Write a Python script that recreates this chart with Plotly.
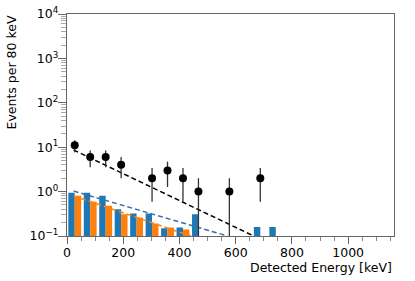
import numpy as np
import plotly.graph_objects as go

# Data (energy bin centers in keV)
bin_centers = [27.5, 82.5, 137.5, 192.5, 247.5, 302.5, 357.5, 412.5,
               467.5, 522.5, 577.5, 632.5, 687.5, 742.5]
blue_vals = [0.94, 0.94, 0.81, 0.40, 0.32, 0.32, 0.15, 0.155,
             0.31, None, None, None, 0.16, 0.16]
orange_vals = [0.81, 0.59, 0.48, 0.31, 0.26, 0.19, 0.155, 0.14,
               None, None, None, None, None, None]

data_x = [27.5, 82.5, 137.5, 192.5, 302.5, 357.5, 412.5, 467.5, 577.5, 687.5]
data_y = [11, 6, 6, 4, 2, 3, 2, 1, 1, 2]
err_up = [3.32, 2.45, 2.45, 2.0, 1.41, 1.73, 1.41, 1.0, 1.0, 1.41]
err_dn = [3.32, 2.45, 2.45, 2.0, 1.41, 1.73, 1.41, 0.999, 0.999, 1.41]

fit_black_x = [23.5, 664]
fit_black_y = [8.65, 0.1]
fit_blue_x = [23.5, 571]
fit_blue_y = [1.03, 0.1]
fit_orange_x = [23.5, 440]
fit_orange_y = [0.80, 0.1]

y_tickvals = [0.1, 1, 10, 100, 1000, 10000]
y_ticktext = ["10<sup>\u22121</sup>", "10<sup>0</sup>", "10<sup>1</sup>",
              "10<sup>2</sup>", "10<sup>3</sup>", "10<sup>4</sup>"]
y_minor = [m * 10.0 ** e for e in range(-1, 4) for m in range(2, 10)]

BLUE = "#1f77b4"
ORANGE = "#ff7f0e"
FONT = "DejaVu Sans"

fig = go.Figure()
fig.add_trace(go.Bar(x=bin_centers, y=blue_vals, marker=dict(color=BLUE, line=dict(width=0)),
                     showlegend=False))
fig.add_trace(go.Bar(x=bin_centers, y=orange_vals, marker=dict(color=ORANGE, line=dict(width=0)),
                     showlegend=False))
fig.add_trace(go.Scatter(x=fit_blue_x, y=fit_blue_y, mode="lines",
                         line=dict(color="#3a6fa6", width=1.5, dash="5px,3px"), showlegend=False))
fig.add_trace(go.Scatter(x=fit_orange_x, y=fit_orange_y, mode="lines",
                         line=dict(color=ORANGE, width=1.5, dash="5px,3px"), showlegend=False))
fig.add_trace(go.Scatter(x=fit_black_x, y=fit_black_y, mode="lines",
                         line=dict(color="black", width=1.5, dash="5px,3px"), showlegend=False))
fig.add_trace(go.Scatter(x=data_x, y=data_y, mode="markers",
                         marker=dict(color="black", size=8),
                         error_y=dict(type="data", array=err_up, arrayminus=err_dn,
                                      color="#333333", thickness=1.3, width=0),
                         showlegend=False))

fig.update_layout(
    width=415, height=281,
    margin=dict(l=67, r=21, t=14, b=45),
    paper_bgcolor="white", plot_bgcolor="white",
    barmode="group", bargap=0.17, bargroupgap=0,
    font=dict(family=FONT, size=12, color="black"),
)
fig.update_xaxes(
    range=[0, 1163], tick0=0, dtick=200, ticks="outside", ticklen=7, tickwidth=1.2,
    tickcolor="#666666", showline=True, linecolor="#666666", linewidth=1.3, mirror=True,
    showgrid=False, zeroline=False, tickfont=dict(size=12.5), automargin=False,
    ticklabelstandoff=-2,
    minor=dict(dtick=50, tick0=0, ticks="outside", ticklen=3.5, tickcolor="#888888", showgrid=False),
)
fig.update_yaxes(
    type="log", range=[-1, 4], tickmode="array", tickvals=y_tickvals, ticktext=y_ticktext,
    ticks="outside", ticklen=8, ticklabelstandoff=-3,
    tickwidth=1.2, tickcolor="#666666", showline=True, linecolor="#666666", linewidth=1.3,
    mirror=True, showgrid=False, zeroline=False, tickfont=dict(size=12.5), automargin=False,
    minor=dict(tickmode="array", tickvals=y_minor, ticks="outside", ticklen=5,
               tickcolor="#aaaaaa", showgrid=False),
)
fig.add_annotation(text="Detected Energy [keV]", xref="paper", yref="paper", x=1.0, y=0,
                   xanchor="right", yanchor="top", yshift=-22, showarrow=False,
                   font=dict(size=12.5, family=FONT))
fig.add_annotation(text="Events per 80 keV", xref="paper", yref="paper", x=0, y=1.0,
                   xanchor="right", yanchor="top", xshift=-47, textangle=-90, showarrow=False,
                   font=dict(size=12.5, family=FONT))

fig.write_html("out.html", config={"displayModeBar": False},
               post_script=["document.body.style.margin='0px';"])
